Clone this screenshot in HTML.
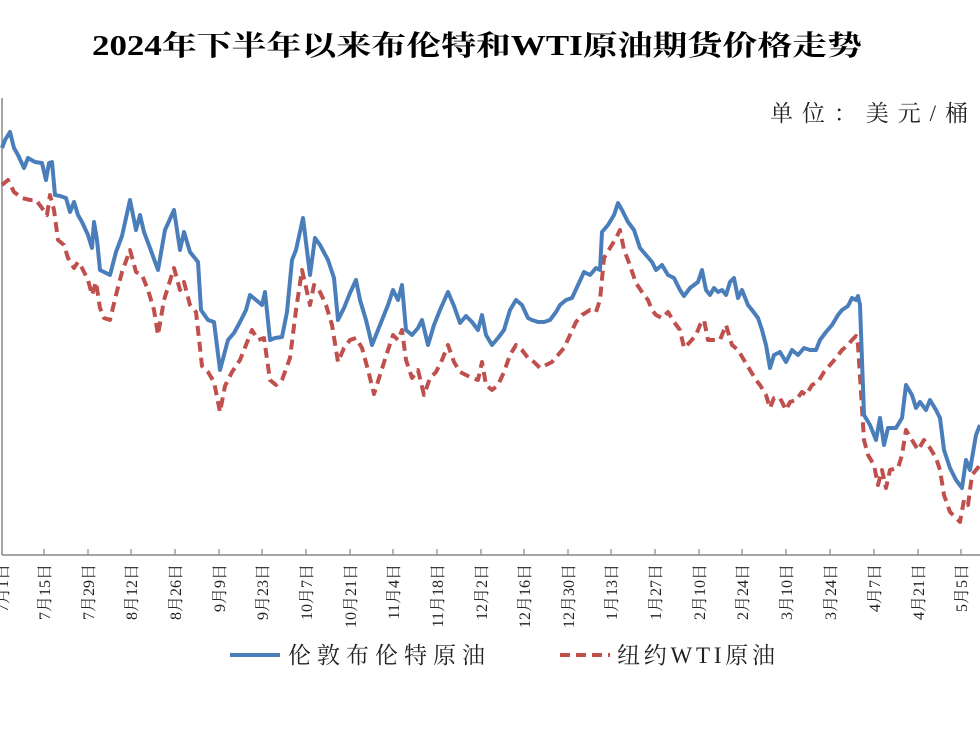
<!DOCTYPE html>
<html><head><meta charset="utf-8"><style>
body{margin:0;background:#fff;width:980px;height:735px;overflow:hidden}
</style></head><body>
<svg width="980" height="735" xmlns="http://www.w3.org/2000/svg" font-family="'Liberation Serif','Noto Serif CJK SC',serif">
<text x="92" y="55" font-size="28" font-weight="bold" textLength="770" lengthAdjust="spacingAndGlyphs">2024年下半年以来布伦特和WTI原油期货价格走势</text>
<text x="770" y="121" font-size="23" fill="#222" textLength="198" lengthAdjust="spacing">单位：美元/桶</text>
<line x1="2" y1="98" x2="2" y2="555" stroke="#888" stroke-width="1.5"/>
<line x1="2" y1="555" x2="980" y2="555" stroke="#888" stroke-width="1.5"/>
<g stroke="#888" stroke-width="1.2">
<line x1="44" y1="549" x2="44" y2="555"/><line x1="88" y1="549" x2="88" y2="555"/><line x1="131" y1="549" x2="131" y2="555"/><line x1="175" y1="549" x2="175" y2="555"/><line x1="219" y1="549" x2="219" y2="555"/><line x1="262" y1="549" x2="262" y2="555"/><line x1="306" y1="549" x2="306" y2="555"/><line x1="350" y1="549" x2="350" y2="555"/><line x1="393" y1="549" x2="393" y2="555"/><line x1="437" y1="549" x2="437" y2="555"/><line x1="481" y1="549" x2="481" y2="555"/><line x1="524" y1="549" x2="524" y2="555"/><line x1="568" y1="549" x2="568" y2="555"/><line x1="611" y1="549" x2="611" y2="555"/><line x1="655" y1="549" x2="655" y2="555"/><line x1="699" y1="549" x2="699" y2="555"/><line x1="742" y1="549" x2="742" y2="555"/><line x1="786" y1="549" x2="786" y2="555"/><line x1="830" y1="549" x2="830" y2="555"/><line x1="874" y1="549" x2="874" y2="555"/><line x1="918" y1="549" x2="918" y2="555"/><line x1="961" y1="549" x2="961" y2="555"/>
</g>
<g font-size="16" fill="#222" text-anchor="end">
<text transform="translate(8,564) rotate(-90)">7月1日</text>
<text transform="translate(50,564) rotate(-90)">7月15日</text>
<text transform="translate(94,564) rotate(-90)">7月29日</text>
<text transform="translate(137,564) rotate(-90)">8月12日</text>
<text transform="translate(181,564) rotate(-90)">8月26日</text>
<text transform="translate(225,564) rotate(-90)">9月9日</text>
<text transform="translate(268,564) rotate(-90)">9月23日</text>
<text transform="translate(312,564) rotate(-90)">10月7日</text>
<text transform="translate(356,564) rotate(-90)">10月21日</text>
<text transform="translate(399,564) rotate(-90)">11月4日</text>
<text transform="translate(443,564) rotate(-90)">11月18日</text>
<text transform="translate(487,564) rotate(-90)">12月2日</text>
<text transform="translate(530,564) rotate(-90)">12月16日</text>
<text transform="translate(574,564) rotate(-90)">12月30日</text>
<text transform="translate(617,564) rotate(-90)">1月13日</text>
<text transform="translate(661,564) rotate(-90)">1月27日</text>
<text transform="translate(705,564) rotate(-90)">2月10日</text>
<text transform="translate(748,564) rotate(-90)">2月24日</text>
<text transform="translate(792,564) rotate(-90)">3月10日</text>
<text transform="translate(836,564) rotate(-90)">3月24日</text>
<text transform="translate(880,564) rotate(-90)">4月7日</text>
<text transform="translate(924,564) rotate(-90)">4月21日</text>
<text transform="translate(967,564) rotate(-90)">5月5日</text>
</g>
<polyline fill="none" stroke="#c0504d" stroke-width="4" stroke-dasharray="10,6" stroke-linejoin="round" points="2,185 8,180 14,192 22,198 30,200 36,200 42,208 47,215 50,195 54,210 58,240 64,245 68,258 74,268 78,262 82,268 88,280 92,295 96,282 100,308 104,318 110,320 116,295 122,272 130,250 136,272 142,275 148,290 154,310 158,335 164,300 174,268 180,290 184,282 190,305 196,312 202,366 208,372 214,382 220,412 225,386 232,372 240,360 246,345 252,330 258,340 264,338 270,380 276,385 282,380 290,358 296,310 302,270 310,305 314,285 320,292 326,305 332,325 338,362 344,348 350,340 356,338 362,348 368,370 374,394 380,375 388,350 393,335 398,340 402,330 406,360 412,378 418,370 424,395 430,378 436,372 442,360 448,345 454,362 460,372 466,375 472,378 478,380 482,362 486,385 492,390 498,385 504,372 510,355 516,345 522,350 528,358 534,362 540,368 546,365 552,362 558,355 564,348 570,335 576,322 582,315 590,310 596,312 600,300 604,258 610,248 616,238 620,230 624,250 628,260 636,283 642,292 648,300 652,310 656,315 662,318 668,312 674,322 680,330 684,348 690,342 696,335 700,325 704,320 708,340 714,340 720,340 726,325 732,345 738,350 744,360 750,370 756,380 760,385 766,395 770,408 774,398 780,398 786,410 790,402 796,400 802,392 806,395 812,385 818,382 824,372 830,365 836,358 842,350 848,345 852,340 856,336 858,345 864,440 868,455 874,465 878,485 882,470 886,488 890,470 898,468 902,455 906,430 912,440 918,450 924,440 930,448 936,458 940,470 944,495 950,512 956,518 960,522 964,500 968,505 972,475 980,465"/>
<polyline fill="none" stroke="#4a7ebb" stroke-width="4" stroke-linejoin="round" points="2,148 5,140 10,132 14,148 18,155 24,168 28,158 35,162 42,163 46,180 49,163 52,162 55,195 60,196 66,198 70,212 74,202 78,215 82,222 88,235 92,248 94,222 97,240 100,270 106,273 110,275 116,252 122,236 130,200 136,230 140,215 144,232 150,248 158,270 165,230 174,210 180,250 184,232 190,252 198,262 201,310 208,320 214,322 220,370 224,355 228,340 234,333 240,322 246,310 250,295 256,300 262,305 265,292 270,340 275,338 282,337 287,312 292,260 296,250 303,218 310,275 315,238 320,245 328,260 334,278 338,320 344,308 350,293 356,280 360,300 366,320 372,345 380,325 388,305 393,290 398,300 402,285 406,330 412,335 418,328 422,320 428,345 434,325 440,310 448,292 454,306 460,323 466,316 472,322 478,330 482,315 486,335 492,345 498,338 504,330 510,310 516,300 522,305 528,318 532,320 538,322 544,322 550,320 556,312 560,305 566,300 572,298 578,285 584,272 590,275 596,268 600,270 602,232 608,225 614,215 618,203 622,210 628,222 634,230 640,248 646,255 652,262 656,270 662,265 668,275 674,278 680,290 684,296 690,288 694,285 698,282 702,270 706,290 710,295 714,288 718,292 722,290 726,295 730,282 734,278 738,298 742,290 748,305 752,310 758,318 762,330 766,345 770,368 774,355 780,352 786,362 792,350 798,355 804,348 810,350 816,350 820,340 826,332 832,325 838,315 842,310 848,306 852,298 856,300 858,296 860,305 864,415 870,425 876,440 880,418 884,445 888,428 896,428 902,418 906,385 912,395 916,408 920,402 926,410 930,400 936,410 940,418 944,450 950,468 956,480 962,488 966,460 970,470 976,435 980,425"/>
<line x1="230" y1="655" x2="280" y2="655" stroke="#4a7ebb" stroke-width="4"/>
<text x="288" y="663" font-size="23" fill="#222" textLength="197" lengthAdjust="spacing">伦敦布伦特原油</text>
<line x1="560" y1="655" x2="610" y2="655" stroke="#c0504d" stroke-width="4" stroke-dasharray="10,6"/>
<text x="617" y="663" font-size="23" fill="#222" textLength="158" lengthAdjust="spacing">纽约WTI原油</text>
</svg>
</body></html>
